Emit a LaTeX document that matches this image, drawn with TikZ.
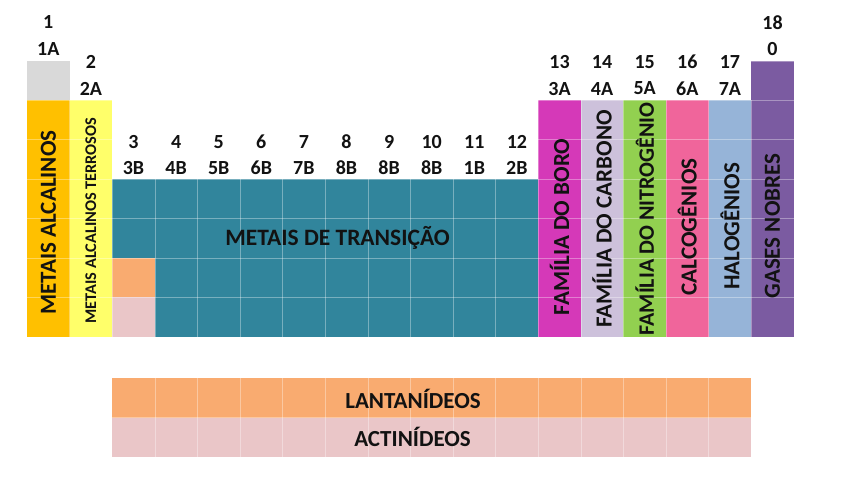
\documentclass[tikz,border=0pt]{standalone}
\usepackage{fontspec}
\setmainfont{Carlito}
\usepackage{xcolor}
\usetikzlibrary{positioning}

\definecolor{cinza}{HTML}{D9D9D9}
\definecolor{alcalino}{HTML}{FFC000}
\definecolor{terroso}{HTML}{FFFF6A}
\definecolor{transicao}{HTML}{31859C}
\definecolor{lantanio}{HTML}{F9AB70}
\definecolor{actinio}{HTML}{EAC6C8}
\definecolor{boro}{HTML}{D539B8}
\definecolor{carbono}{HTML}{CDC1DB}
\definecolor{nitrogenio}{HTML}{92D050}
\definecolor{calcogenio}{HTML}{F0659B}
\definecolor{halogenio}{HTML}{96B4D8}
\definecolor{nobre}{HTML}{7B5BA1}
\definecolor{tinta}{HTML}{121212}

\tikzset{
  grupo/.style={text=tinta, inner sep=0pt, font=\fontsize{20}{20}\selectfont\bfseries},
  familia/.style={rotate=90, text=tinta, inner sep=0pt, font=\fontsize{23}{23}\selectfont\bfseries},
  bloco/.style={text=tinta, inner sep=0pt, font=\fontsize{23}{23}\selectfont\bfseries},
  grade/.style={white, opacity=0.35, line width=0.6pt}
}

\begin{document}
\begin{tikzpicture}[x=42.6pt,y=-39.4pt]
\useasboundingbox (-0.634,-1.548) rectangle (19.319,10.812);
% colunas
\fill[cinza] (0,0) rectangle (1,1);
\fill[alcalino] (0,1) rectangle (1,7);
\fill[terroso] (1,1) rectangle (2,7);
\fill[transicao] (2,3) rectangle (12,7);
\fill[lantanio] (2,5) rectangle (3,6);
\fill[actinio] (2,6) rectangle (3,7);
\fill[boro] (12,1) rectangle (13,7);
\fill[carbono] (13,1) rectangle (14,7);
\fill[nitrogenio] (14,1) rectangle (15,7);
\fill[calcogenio] (15,1) rectangle (16,7);
\fill[halogenio] (16,1) rectangle (17,7);
\fill[nobre] (17,0) rectangle (18,7);
% serie f
\fill[lantanio] (2,8.05) rectangle (17,9.05);
\fill[actinio] (2,9.05) rectangle (17,10.05);
% grade
\foreach \r in {1,...,6}
  \draw[grade] (0,\r) -- (18,\r);
\foreach \c in {1,...,17}
  \draw[grade] (\c,1) -- (\c,7);
\draw[grade] (17,0) -- (18,0);
\foreach \c in {3,...,16}
  \draw[grade] (\c,8.05) -- (\c,10.05);
\draw[grade] (2,9.05) -- (17,9.05);
% numeros dos grupos
\node[grupo] (n1) at (0.5,-0.98) {1};
\node[grupo] (g1) at (0.5,-0.3) {1A};
\node[grupo] (n2) at (1.5,0.02) {2};
\node[grupo] (g2) at (1.5,0.7) {2A};
\foreach \n/\g [count=\i from 3] in {3/3B,4/4B,5/5B,6/6B,7/7B,8/8B,9/8B,10/8B,11/1B,12/2B} {
  \node[grupo] (n\n) at (\i-0.5,2.06) {\n};
  \node[grupo] (g\n) at (\i-0.5,2.72) {\g};
}
\foreach \n/\g [count=\i from 13] in {13/3A,14/4A,15/5A,16/6A,17/7A} {
  \node[grupo] (n\n) at (\i-0.5,0.02) {\n};
  \node[grupo] (g\n) at (\i-0.5,0.7) {\g};
}
\node[grupo] (n18) at (17.5,-0.98) {18};
\node[grupo] (g18) at (17.5,-0.3) {0};
% nomes das familias
\node[familia] (alcalinos) at (0.5,4.1) {METAIS ALCALINOS};
\node[familia, font=\fontsize{16.3}{16.3}\selectfont\bfseries] (terrosos) at (1.5,4.05) {METAIS ALCALINOS TERROSOS};
\node[familia] (fboro) at (12.5,4.21) {FAMÍLIA DO BORO};
\node[familia] (fcarbono) at (13.5,4.01) {FAMÍLIA DO CARBONO};
\node[familia, font=\fontsize{22}{22}\selectfont\bfseries] (fnitro) at (14.5,4.01) {FAMÍLIA DO NITROGÊNIO};
\node[familia] (calco) at (15.5,4.21) {CALCOGÊNIOS};
\node[familia] (halo) at (16.5,4.19) {HALOGÊNIOS};
\node[familia] (gases) at (17.5,4.19) {GASES NOBRES};
\node[bloco, font=\fontsize{23.5}{23.5}\selectfont\bfseries] (transicao) at (7.29,4.49) {METAIS DE TRANSIÇÃO};
\node[bloco] (lantanideos) at (9.06,8.58) {LANTANÍDEOS};
\node[bloco] (actinideos) at (9.05,9.53) {ACTINÍDEOS};
\end{tikzpicture}
\end{document}
